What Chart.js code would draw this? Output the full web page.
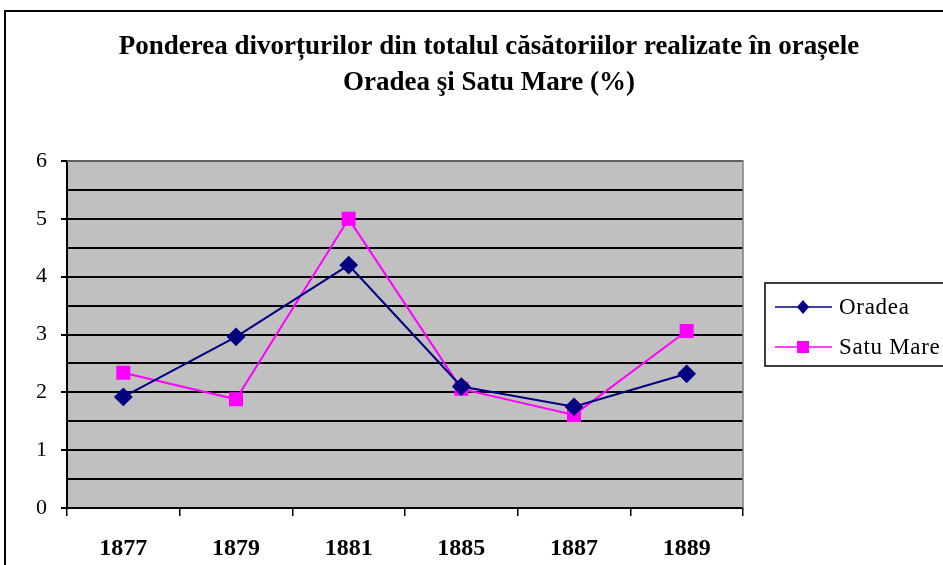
<!DOCTYPE html>
<html>
<head>
<meta charset="utf-8">
<script src="https://cdn.jsdelivr.net/npm/chart.js@4.4.1/dist/chart.umd.min.js"></script>
<style>
  html, body { margin: 0; padding: 0; background: #fff; }
  #wrap { width: 943px; height: 565px; position: relative; }
</style>
</head>
<body>
<div id="wrap"><canvas id="chart"></canvas></div>
<script>
// Date
const years = ['1877', '1879', '1881', '1885', '1887', '1889'];
const oradea = [1.92, 2.96, 4.2, 2.1, 1.75, 2.32];
const satuMare = [2.34, 1.88, 5.0, 2.06, 1.61, 3.06];
const titleLines = [
    'Ponderea divorțurilor din totalul căsătoriilor realizate în orașele',
    'Oradea şi Satu Mare (%)'
];

const serif = '"Liberation Serif", "Times New Roman", serif';

// fond gri, cadru, titlu, legenda
const decor = {
    id: 'decor',
    beforeDraw(chart) {
        const { ctx, chartArea: a } = chart;
        ctx.save();
        ctx.fillStyle = '#C0C0C0';
        ctx.fillRect(a.left, a.top, a.right - a.left, a.bottom - a.top);
        ctx.restore();
    },
    afterDraw(chart) {
        const { ctx, chartArea: a } = chart;
        ctx.save();
        // bordura zonei de plot (sus si dreapta, gri)
        ctx.strokeStyle = '#808080';
        ctx.lineWidth = 1.5;
        ctx.beginPath();
        ctx.moveTo(a.left, a.top);
        ctx.lineTo(a.right, a.top);
        ctx.lineTo(a.right, a.bottom);
        ctx.stroke();

        // cadrul exterior
        ctx.strokeStyle = '#000';
        ctx.lineWidth = 2;
        ctx.beginPath();
        ctx.moveTo(5, 570);
        ctx.lineTo(5, 11);
        ctx.lineTo(950, 11);
        ctx.stroke();

        // titlu
        ctx.fillStyle = '#000';
        ctx.font = 'bold 27px ' + serif;
        ctx.textAlign = 'center';
        ctx.textBaseline = 'middle';
        ctx.fillText(titleLines[0], 489, 47);
        ctx.fillText(titleLines[1], 489, 83);

        // legenda
        ctx.lineWidth = 1.5;
        ctx.strokeStyle = '#000';
        ctx.strokeRect(765, 283, 200, 83);
        ctx.font = '23px ' + serif;
        ctx.letterSpacing = '0.7px';
        ctx.textAlign = 'left';
        chart.data.datasets.forEach((ds, i) => {
            const y = 307 + i * 40;
            ctx.strokeStyle = ds.borderColor;
            ctx.lineWidth = 1.5;
            ctx.beginPath();
            ctx.moveTo(775, y);
            ctx.lineTo(832, y);
            ctx.stroke();
            ctx.fillStyle = ds.borderColor;
            if (ds.pointStyle === 'rect') {
                ctx.fillRect(797, y - 6, 12, 12);
            } else {
                ctx.beginPath();
                ctx.moveTo(803, y - 7);
                ctx.lineTo(809, y);
                ctx.lineTo(803, y + 7);
                ctx.lineTo(797, y);
                ctx.closePath();
                ctx.fill();
            }
            ctx.fillStyle = '#000';
            ctx.fillText(ds.label, 839, y + 1);
        });
        ctx.restore();
    }
};

new Chart(document.getElementById('chart'), {
    type: 'line',
    data: {
        labels: years,
        datasets: [{
            label: 'Oradea',
            data: oradea,
            borderColor: '#000080',
            backgroundColor: '#000080',
            borderWidth: 2,
            pointStyle: 'rectRot',
            pointRadius: 8,
            pointHoverRadius: 8,
            tension: 0
        }, {
            label: 'Satu Mare',
            data: satuMare,
            borderColor: '#FF00FF',
            backgroundColor: '#FF00FF',
            borderWidth: 2,
            pointStyle: 'rect',
            pointRadius: 8.5,
            pointHoverRadius: 8.5,
            tension: 0
        }]
    },
    options: {
        responsive: true,
        maintainAspectRatio: false,
        animation: false,
        layout: {
            padding: { top: 161, right: 200, bottom: 0, left: 0 }
        },
        plugins: {
            legend: { display: false },
            title: { display: false },
            tooltip: { enabled: false }
        },
        scales: {
            x: {
                offset: true,
                grid: {
                    offset: true,
                    drawOnChartArea: false,
                    color: '#000',
                    lineWidth: 1.5,
                    tickLength: 8
                },
                border: { color: '#000', width: 2 },
                ticks: {
                    color: '#000',
                    padding: 18,
                    font: { family: serif, size: 24, weight: 'bold' }
                },
                afterFit(scale) { scale.height = 57; }
            },
            y: {
                min: 0,
                max: 6,
                ticks: {
                    stepSize: 0.5,
                    autoSkip: false,
                    color: '#000',
                    padding: 14,
                    font: { family: serif, size: 22 },
                    callback: v => Number.isInteger(v) ? v : ''
                },
                grid: {
                    color: '#000',
                    lineWidth: 2,
                    tickLength: 6,
                    tickColor: c => Number.isInteger(c.tick.value) ? '#000' : 'rgba(0,0,0,0)'
                },
                border: { color: '#000', width: 2 },
                afterFit(scale) { scale.width = 67; }
            }
        }
    },
    plugins: [decor]
});
</script>
</body>
</html>
